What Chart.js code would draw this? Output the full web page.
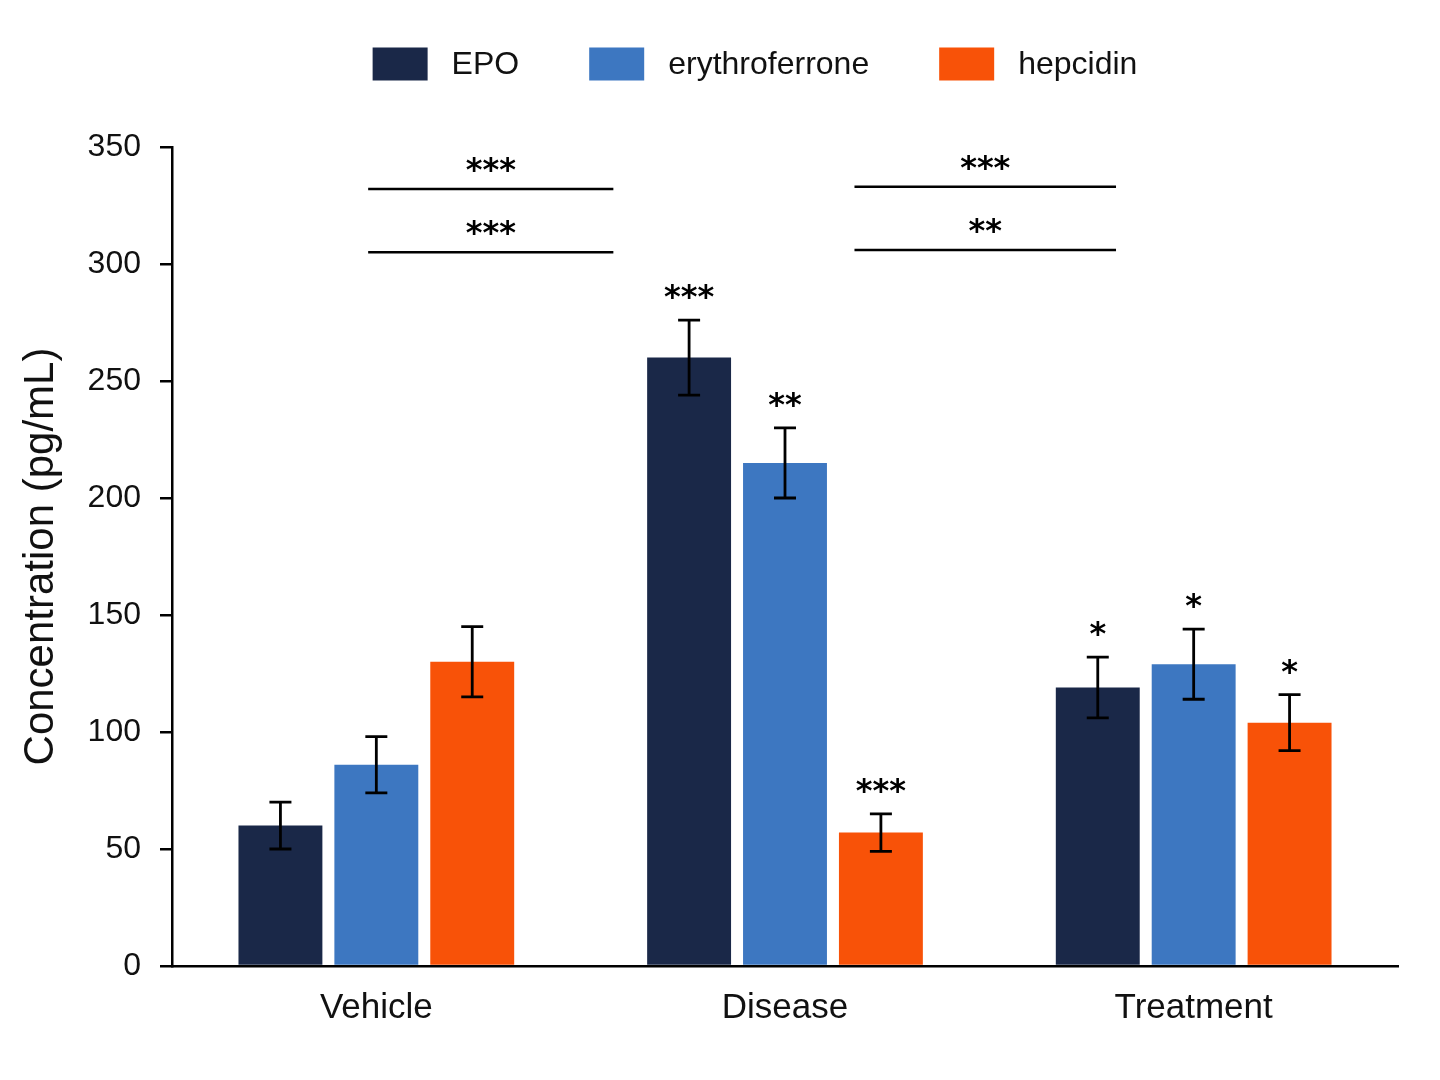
<!DOCTYPE html>
<html>
<head>
<meta charset="utf-8">
<script src="https://cdn.jsdelivr.net/npm/chart.js@4.4.0/dist/chart.umd.min.js"></script>
<style>
  html, body { margin: 0; padding: 0; background: #fff; }
  #wrap { width: 1440px; height: 1080px; position: relative; }
</style>
</head>
<body>
<div id="wrap"><canvas id="concChart"></canvas></div>
<script>
/* Concentration of EPO / erythroferrone / hepcidin by group */

const groups   = ['Vehicle', 'Disease', 'Treatment'];
const epoMean  = [60, 260, 119];
const epoErr   = [10, 16, 13];
const epoSig   = ['', '***', '*'];
const eryMean  = [86, 215, 129];
const eryErr   = [12, 15, 15];
const erySig   = ['', '**', '*'];
const hepMean  = [130, 57, 104];
const hepErr   = [15, 8, 12];
const hepSig   = ['', '***', '*'];
const yTicks   = [0, 50, 100, 150, 200, 250, 300, 350];

// significance between groups (y level in pg/mL + stars)
const bracketLevel = [332, 305, 333, 306];
const bracketText  = ['***', '***', '***', '**'];
const bracketFrom  = [-0.02, -0.02, 1.17, 1.17];
const bracketTo    = [0.58, 0.58, 1.81, 1.81];

const FONT = "'Liberation Sans', Arial, Helvetica, sans-serif";
const STAR_FONT = "bold 32px 'DejaVu Sans', sans-serif";

const errorBars = {
  id: 'errorBars',
  afterDatasetsDraw(chart) {
    const { ctx, scales: { x, y } } = chart;
    ctx.save();
    ctx.strokeStyle = '#000';
    ctx.fillStyle = '#000';
    ctx.lineWidth = 2.8;
    ctx.font = STAR_FONT;
    ctx.textAlign = 'center';
    ctx.textBaseline = 'alphabetic';
    chart.data.datasets.forEach((ds, i) => {
      chart.getDatasetMeta(i).data.forEach((bar, j) => {
        const hi = y.getPixelForValue(ds.data[j] + ds.errors[j]);
        const lo = y.getPixelForValue(ds.data[j] - ds.errors[j]);
        ctx.beginPath();
        ctx.moveTo(bar.x, hi); ctx.lineTo(bar.x, lo);
        ctx.moveTo(bar.x - 11, hi); ctx.lineTo(bar.x + 11, hi);
        ctx.moveTo(bar.x - 11, lo); ctx.lineTo(bar.x + 11, lo);
        ctx.stroke();
        if (ds.stars[j]) ctx.fillText(ds.stars[j], bar.x, hi - 13);
      });
    });
    // brackets
    ctx.lineWidth = 2.5;
    bracketLevel.forEach((lvl, k) => {
      const yy = y.getPixelForValue(lvl);
      const x0 = x.getPixelForValue(bracketFrom[k]);
      const x1 = x.getPixelForValue(bracketTo[k]);
      ctx.beginPath();
      ctx.moveTo(x0, yy); ctx.lineTo(x1, yy);
      ctx.stroke();
      ctx.fillText(bracketText[k], (x0 + x1) / 2, yy - 9);
    });
    ctx.restore();
  }
};

const topLegend = {
  id: 'topLegend',
  afterDraw(chart) {
    const { ctx } = chart;
    const boxW = 55, boxH = 33, gap = 24, itemGap = 70, cy = 64;
    ctx.save();
    ctx.font = '32px ' + FONT;
    ctx.textBaseline = 'middle';
    ctx.textAlign = 'left';
    const items = chart.data.datasets.map(ds => ({ label: ds.label, color: ds.backgroundColor, w: ctx.measureText(ds.label).width }));
    const total = items.reduce((s, it) => s + boxW + gap + it.w, 0) + itemGap * (items.length - 1);
    let cx = chart.width / 2 + 35 - total / 2;
    items.forEach(it => {
      ctx.fillStyle = it.color;
      ctx.fillRect(cx, cy - boxH / 2, boxW, boxH);
      ctx.fillStyle = '#111';
      ctx.fillText(it.label, cx + boxW + gap, cy + 1);
      cx += boxW + gap + it.w + itemGap;
    });
    ctx.restore();
  }
};

new Chart(document.getElementById('concChart').getContext('2d'), {
  type: 'bar',
  data: {
    labels: groups,
    datasets: [
      { label: 'EPO',            data: epoMean, errors: epoErr, stars: epoSig, backgroundColor: '#1a2848' },
      { label: 'erythroferrone', data: eryMean, errors: eryErr, stars: erySig, backgroundColor: '#3d77c1' },
      { label: 'hepcidin',       data: hepMean, errors: hepErr, stars: hepSig, backgroundColor: '#f85208' }
    ]
  },
  options: {
    responsive: true, maintainAspectRatio: false, animation: false,
    layout: { padding: { top: 147, left: 12, right: 42, bottom: 30 } },
    datasets: { bar: { categoryPercentage: 0.704, barPercentage: 0.875 } },
    plugins: { legend: { display: false }, tooltip: { enabled: false } },
    scales: {
      x: {
        grid: { display: false, drawTicks: false },
        border: { color: '#000', width: 2.5 },
        ticks: { color: '#111', font: { family: FONT, size: 35 }, padding: 21 }
      },
      y: {
        min: 0, max: 350,
        afterBuildTicks: s => { s.ticks = yTicks.map(v => ({ value: v })); },
        afterFit: s => { s.width = 160; },
        grid: { drawOnChartArea: false, drawTicks: true, tickLength: 12, color: '#000', lineWidth: 2.5 },
        border: { color: '#000', width: 2.5 },
        ticks: { color: '#111', font: { family: FONT, size: 32 }, padding: 19 },
        title: { display: true, text: 'Concentration (pg/mL)', color: '#111', font: { family: FONT, size: 42 } }
      }
    }
  },
  plugins: [errorBars, topLegend]
});
</script>
</body>
</html>
